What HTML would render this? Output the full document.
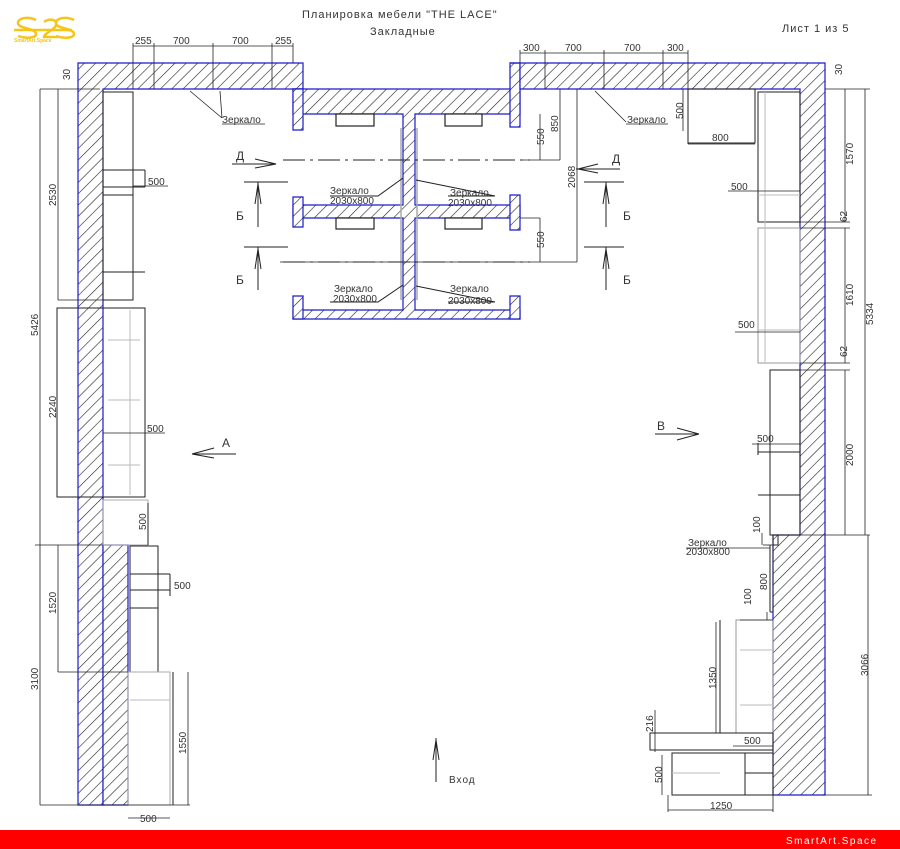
<!DOCTYPE html>
<html><head><meta charset="utf-8"><style>
html,body{margin:0;padding:0;background:#fff;width:900px;height:849px;overflow:hidden}
svg{display:block}
text{font-family:"Liberation Sans","DejaVu Sans",sans-serif;fill:#333;font-size:10px}
</style></head><body>
<svg width="900" height="849" viewBox="0 0 900 849" xmlns="http://www.w3.org/2000/svg">
<defs>
<pattern id="h" patternUnits="userSpaceOnUse" width="8" height="8" patternTransform="rotate(45)">
<rect width="8" height="8" fill="#fff"/><line x1="0" y1="0" x2="0" y2="8" stroke="#222" stroke-width="1.2"/>
</pattern>
</defs>
<rect width="900" height="849" fill="#fff"/>

<!-- logo -->
<g fill="none" stroke="#f5c518" stroke-width="2.5">
<path d="M14 30 h58"/><path d="M36 20 c-8 -4 -18 -2 -18 3 c0 6 18 5 18 11 c0 4 -10 5 -18 2"/>
<path d="M44 22 c4 -4 14 -3 12 3 c-1 5 -12 8 -12 12 h14"/>
<path d="M74 20 c-8 -4 -18 -2 -18 3 c0 6 18 5 18 11 c0 4 -10 5 -18 2"/>
</g>
<text x="14" y="42" style="font-size:5px;fill:#f5c518;font-weight:bold">SmartArt.Space</text>

<text x="302" y="18" style="font-size:11px;letter-spacing:1px">Планировка мебели "THE LACE"</text>
<text x="370" y="35" style="font-size:11px;letter-spacing:1px">Закладные</text>
<text x="782" y="32" style="font-size:11px;letter-spacing:1px">Лист 1 из 5</text>

<!-- walls -->
<g fill="url(#h)" stroke="#1a1acc" stroke-width="1.2">
<path d="M78 63 H303 V89 H103 V805 H78 Z"/>
<path d="M103 545 H128 V805 H103 Z"/>
<path d="M293 89 H520 V114 H415 V205 H520 V218 H415 V310 H520 V319 H293 V310 H403 V218 H293 V205 H403 V114 H293 Z"/>
<path d="M293 89 h10 v41 h-10 Z"/><path d="M510 63 h10 v64 h-10 Z"/>
<path d="M293 197 h10 v30 h-10 Z"/><path d="M510 195 h10 v35 h-10 Z"/>
<path d="M293 296 h10 v23 h-10 Z"/><path d="M510 296 h10 v23 h-10 Z"/>
<path d="M510 63 H825 V795 H773 V535 H800 V89 H520 V63 Z"/>
</g>

<!-- small shelves center -->
<g fill="#fff" stroke="#222" stroke-width="1.2">
<rect x="336" y="114" width="38" height="12"/><rect x="445" y="114" width="37" height="12"/>
<rect x="336" y="218" width="38" height="11"/><rect x="445" y="218" width="37" height="11"/>
</g>
<g stroke="#aaa" stroke-width="1.5"><line x1="401" y1="128" x2="401" y2="300"/><line x1="417" y1="128" x2="417" y2="300"/></g>

<!-- cabinets -->
<g fill="none" stroke="#222" stroke-width="1">
<rect x="103" y="92" width="30" height="208"/>
<line x1="103" y1="170" x2="145" y2="170"/><line x1="145" y1="170" x2="145" y2="187"/><line x1="103" y1="187" x2="145" y2="187"/>
<line x1="103" y1="195" x2="133" y2="195"/><line x1="103" y1="272" x2="145" y2="272"/>
<rect x="57" y="308" width="88" height="189"/>
<rect x="103" y="500" width="45" height="45" stroke="#aaa"/><line x1="148" y1="503" x2="148" y2="545"/>
<rect x="130" y="546" width="28" height="126"/><line x1="130" y1="574" x2="170" y2="574"/><line x1="130" y1="590" x2="170" y2="590"/><line x1="170" y1="574" x2="170" y2="596"/><line x1="130" y1="608" x2="158" y2="608"/>
<rect x="128" y="672" width="42" height="133" stroke="#aaa"/><line x1="173" y1="672" x2="173" y2="805"/>
<rect x="688" y="89" width="67" height="54"/>
<rect x="758" y="92" width="42" height="130"/>
<rect x="758" y="228" width="42" height="135" stroke="#999"/>
<rect x="770" y="370" width="30" height="165"/>
<line x1="758" y1="452" x2="800" y2="452"/><line x1="758" y1="443" x2="758" y2="455"/><line x1="758" y1="495" x2="800" y2="495"/>
<rect x="773" y="535" width="5" height="10"/><line x1="770" y1="545" x2="770" y2="612"/><line x1="770" y1="612" x2="773" y2="612"/>
<rect x="736" y="620" width="37" height="113" stroke="#999"/><line x1="720" y1="620" x2="720" y2="733"/>
<rect x="650" y="733" width="123" height="17"/>
<rect x="672" y="753" width="101" height="42"/><line x1="745" y1="753" x2="745" y2="795"/><line x1="745" y1="773" x2="773" y2="773"/>
</g>
<g stroke="#bbb" stroke-width="1" fill="none">
<line x1="108" y1="340" x2="140" y2="340"/><line x1="108" y1="400" x2="140" y2="400"/><line x1="108" y1="465" x2="140" y2="465"/>
<line x1="130" y1="310" x2="130" y2="495"/><line x1="130" y1="700" x2="170" y2="700"/>
<line x1="765" y1="92" x2="765" y2="362"/><line x1="758" y1="195" x2="800" y2="195"/><line x1="758" y1="330" x2="800" y2="330"/>
<line x1="740" y1="650" x2="773" y2="650"/><line x1="740" y1="705" x2="773" y2="705"/><line x1="672" y1="773" x2="720" y2="773"/>
</g>

<!-- dimension lines -->
<g stroke="#222" stroke-width="0.8" fill="none">
<line x1="133" y1="46" x2="293" y2="46"/><line x1="133" y1="43" x2="133" y2="89"/><line x1="154" y1="43" x2="154" y2="89"/><line x1="213" y1="43" x2="213" y2="89"/><line x1="272" y1="43" x2="272" y2="89"/><line x1="293" y1="43" x2="293" y2="63"/>
<line x1="520" y1="53" x2="688" y2="53"/><line x1="520" y1="50" x2="520" y2="63"/><line x1="545" y1="50" x2="545" y2="89"/><line x1="604" y1="50" x2="604" y2="89"/><line x1="663" y1="50" x2="663" y2="89"/><line x1="688" y1="50" x2="688" y2="89"/>
<line x1="40" y1="89" x2="100" y2="89"/><line x1="40" y1="89" x2="40" y2="805"/><line x1="58" y1="89" x2="58" y2="300"/><line x1="58" y1="300" x2="103" y2="300"/>
<line x1="35" y1="545" x2="103" y2="545"/><line x1="58" y1="545" x2="58" y2="672"/><line x1="58" y1="672" x2="128" y2="672"/><line x1="40" y1="805" x2="190" y2="805"/>
<line x1="188" y1="672" x2="188" y2="805"/><line x1="128" y1="818" x2="170" y2="818"/>
<line x1="133" y1="186" x2="168" y2="186"/><line x1="103" y1="433" x2="165" y2="433"/>
<line x1="540" y1="114" x2="540" y2="160"/><line x1="520" y1="160" x2="540" y2="160"/><line x1="560" y1="89" x2="560" y2="160"/><line x1="540" y1="160" x2="560" y2="160"/>
<line x1="577" y1="89" x2="577" y2="262"/><line x1="540" y1="218" x2="540" y2="262"/><line x1="520" y1="218" x2="540" y2="218"/><line x1="280" y1="262" x2="577" y2="262"/>
<line x1="683" y1="89" x2="683" y2="131"/><line x1="688" y1="144" x2="755" y2="144"/><line x1="688" y1="144" x2="688" y2="89"/>
<line x1="728" y1="191" x2="800" y2="191"/><line x1="735" y1="332" x2="800" y2="332"/><line x1="752" y1="444" x2="800" y2="444"/>
<line x1="845" y1="89" x2="845" y2="222"/><line x1="845" y1="228" x2="845" y2="363"/><line x1="845" y1="370" x2="845" y2="535"/>
<line x1="800" y1="222" x2="850" y2="222"/><line x1="800" y1="228" x2="850" y2="228"/><line x1="800" y1="363" x2="850" y2="363"/><line x1="800" y1="370" x2="850" y2="370"/>
<line x1="865" y1="89" x2="865" y2="535"/><line x1="825" y1="89" x2="870" y2="89"/><line x1="778" y1="535" x2="870" y2="535"/>
<line x1="868" y1="535" x2="868" y2="795"/><line x1="825" y1="795" x2="872" y2="795"/>
<line x1="773" y1="545" x2="773" y2="612"/><line x1="762" y1="533" x2="762" y2="545"/><line x1="767" y1="612" x2="767" y2="620"/><line x1="763" y1="545" x2="773" y2="545"/>
<line x1="740" y1="620" x2="773" y2="620"/><line x1="716" y1="622" x2="716" y2="733"/>
<line x1="733" y1="746" x2="773" y2="746"/><line x1="655" y1="710" x2="655" y2="752"/><line x1="662" y1="755" x2="662" y2="795"/>
<line x1="668" y1="795" x2="668" y2="812"/><line x1="773" y1="795" x2="773" y2="812"/><line x1="668" y1="810" x2="773" y2="810"/>
<line x1="190" y1="91" x2="222" y2="118"/><line x1="220" y1="91" x2="222" y2="118"/><line x1="222" y1="124" x2="265" y2="124"/>
<line x1="595" y1="91" x2="626" y2="122"/><line x1="626" y1="124" x2="668" y2="124"/>
<line x1="686" y1="548" x2="770" y2="548"/>
</g>
<!-- section lines -->
<g stroke="#222" stroke-width="1" fill="none">
<path d="M283 160 H530" stroke-dasharray="22 5 3 5"/><path d="M283 262 H530" stroke-dasharray="22 5 3 5"/>
<path d="M232 164 H276 M255 159 L276 164 L255 168"/>
<path d="M576 169 H620 M598 164 L578 169 L598 173"/>
<path d="M244 182 H288 M258 182 V227 M255 204 L258 184 L261 204"/>
<path d="M584 182 H624 M606 182 V227 M603 204 L606 184 L609 204"/>
<path d="M244 247 H288 M258 247 V290 M255 269 L258 249 L261 269"/>
<path d="M584 247 H624 M606 247 V290 M603 269 L606 249 L609 269"/>
<path d="M192 454 H236 M192 454 L214 448 M192 454 L214 458"/>
<path d="M655 434 H699 M699 434 L677 428 M699 434 L677 440"/>
<path d="M436 782 V738 M433 760 L436 740 L439 760"/>
<path d="M330 196 H378 L403 178"/><path d="M448 196 H495 L416 180"/>
<path d="M330 302 H378 L403 285"/><path d="M448 302 H495 L416 286"/>
</g>

<g style="font-size:10px">
<text x="135" y="44">255</text><text x="173" y="44">700</text><text x="232" y="44">700</text><text x="275" y="44">255</text>
<text x="523" y="51">300</text><text x="565" y="51">700</text><text x="624" y="51">700</text><text x="667" y="51">300</text>
<text x="222" y="123">Зеркало</text><text x="627" y="123">Зеркало</text>
<text x="148" y="185">500</text><text x="147" y="432">500</text><text x="174" y="589">500</text><text x="140" y="822">500</text>
<text x="731" y="190">500</text><text x="738" y="328">500</text><text x="757" y="442">500</text>
<text x="712" y="141">800</text><text x="744" y="744">500</text><text x="710" y="809">1250</text>
<text x="330" y="194">Зеркало</text><text x="330" y="204">2030x800</text>
<text x="450" y="196">Зеркало</text><text x="448" y="206">2030x800</text>
<text x="334" y="292">Зеркало</text><text x="333" y="302">2030x800</text>
<text x="450" y="292">Зеркало</text><text x="448" y="304">2030x800</text>
<text x="688" y="546">Зеркало</text><text x="686" y="555">2030x800</text>
<text x="236" y="160" style="font-size:12px">Д</text><text x="612" y="163" style="font-size:12px">Д</text>
<text x="236" y="220" style="font-size:12px">Б</text><text x="623" y="220" style="font-size:12px">Б</text>
<text x="236" y="284" style="font-size:12px">Б</text><text x="623" y="284" style="font-size:12px">Б</text>
<text x="222" y="447" style="font-size:12px">A</text><text x="657" y="430" style="font-size:12px">B</text>
<text x="449" y="783" style="letter-spacing:1px">Вход</text>
</g>
<g style="font-size:10px">
<text transform="translate(70,80) rotate(-90)">30</text>
<text transform="translate(56,206) rotate(-90)">2530</text>
<text transform="translate(38,336) rotate(-90)">5426</text>
<text transform="translate(56,418) rotate(-90)">2240</text>
<text transform="translate(146,530) rotate(-90)">500</text>
<text transform="translate(56,614) rotate(-90)">1520</text>
<text transform="translate(38,690) rotate(-90)">3100</text>
<text transform="translate(186,754) rotate(-90)">1550</text>
<text transform="translate(544,145) rotate(-90)">550</text>
<text transform="translate(558,132) rotate(-90)">850</text>
<text transform="translate(575,188) rotate(-90)">2068</text>
<text transform="translate(544,248) rotate(-90)">550</text>
<text transform="translate(683,119) rotate(-90)">500</text>
<text transform="translate(842,75) rotate(-90)">30</text>
<text transform="translate(853,165) rotate(-90)">1570</text>
<text transform="translate(847,222) rotate(-90)">62</text>
<text transform="translate(853,306) rotate(-90)">1610</text>
<text transform="translate(847,357) rotate(-90)">62</text>
<text transform="translate(873,325) rotate(-90)">5334</text>
<text transform="translate(853,466) rotate(-90)">2000</text>
<text transform="translate(760,533) rotate(-90)">100</text>
<text transform="translate(767,590) rotate(-90)">800</text>
<text transform="translate(751,605) rotate(-90)">100</text>
<text transform="translate(716,689) rotate(-90)">1350</text>
<text transform="translate(653,732) rotate(-90)">216</text>
<text transform="translate(662,783) rotate(-90)">500</text>
<text transform="translate(868,676) rotate(-90)">3066</text>
</g>

<rect x="0" y="830" width="900" height="19" fill="#ff0000"/>
<text x="786" y="844" style="fill:#fff;font-size:10px;letter-spacing:1.5px">SmartArt.Space</text>
</svg>
</body></html>
